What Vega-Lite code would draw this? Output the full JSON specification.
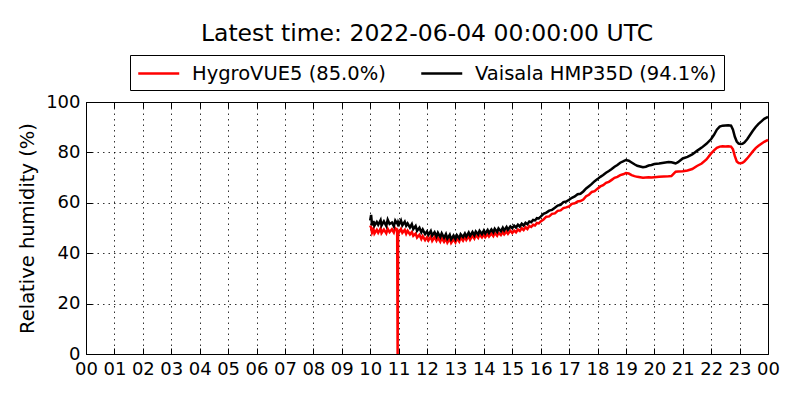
{
  "$schema": "https://vega.github.io/schema/vega-lite/v6.json",
  "description": "relative humidity, two sensors",
  "width": 682,
  "height": 252,
  "autosize": {"type": "none"},
  "padding": {"left": 86, "top": 102, "right": 32, "bottom": 46},
  "title": {
    "text": "Latest time: 2022-06-04 00:00:00 UTC",
    "fontSize": 23.5,
    "font": "DejaVu Sans",
    "fontWeight": "normal",
    "color": "black",
    "anchor": "middle",
    "offset": 9
  },
  "data": {
    "values": [
      {"m": 600, "h": 51.0, "v": 53.0},
      {"m": 602, "h": 50.2, "v": 55.2},
      {"m": 604, "h": 48.2, "v": 51.0},
      {"m": 607, "h": 49.6, "v": 52.8},
      {"m": 609, "h": 47.8, "v": 50.9},
      {"m": 614, "h": 49.3, "v": 52.4},
      {"m": 617, "h": 48.1, "v": 51.3},
      {"m": 622, "h": 49.8, "v": 53.1},
      {"m": 624, "h": 48.0, "v": 51.0},
      {"m": 629, "h": 49.4, "v": 52.6},
      {"m": 634, "h": 47.9, "v": 50.8},
      {"m": 637, "h": 49.7, "v": 53.3},
      {"m": 641, "h": 48.4, "v": 51.6},
      {"m": 646, "h": 49.5, "v": 52.2},
      {"m": 650, "h": 48.2, "v": 50.7},
      {"m": 653, "h": 49.9, "v": 52.9},
      {"m": 656, "h": 49.3, "v": 52.0},
      {"m": 657, "h": 49.3, "v": 52.0},
      {"m": 658, "h": 0.0, "v": 51.6},
      {"m": 659, "h": 48.8, "v": 52.3},
      {"m": 661, "h": 48.3, "v": 51.4},
      {"m": 665, "h": 49.6, "v": 53.0},
      {"m": 668, "h": 48.1, "v": 51.1},
      {"m": 673, "h": 49.2, "v": 52.5},
      {"m": 676, "h": 47.7, "v": 50.9},
      {"m": 679, "h": 48.9, "v": 51.8},
      {"m": 684, "h": 47.5, "v": 50.2},
      {"m": 688, "h": 48.4, "v": 51.5},
      {"m": 691, "h": 46.9, "v": 49.6},
      {"m": 696, "h": 47.8, "v": 50.8},
      {"m": 699, "h": 46.2, "v": 48.9},
      {"m": 704, "h": 47.3, "v": 50.1},
      {"m": 708, "h": 45.6, "v": 48.3},
      {"m": 711, "h": 46.8, "v": 49.4},
      {"m": 716, "h": 45.2, "v": 47.6},
      {"m": 720, "h": 46.3, "v": 48.6},
      {"m": 723, "h": 45.1, "v": 47.3},
      {"m": 728, "h": 46.6, "v": 48.8},
      {"m": 731, "h": 44.9, "v": 47.0},
      {"m": 736, "h": 46.4, "v": 48.3},
      {"m": 740, "h": 45.0, "v": 46.6},
      {"m": 743, "h": 46.2, "v": 48.1},
      {"m": 748, "h": 44.6, "v": 46.4},
      {"m": 751, "h": 46.0, "v": 47.9},
      {"m": 756, "h": 44.5, "v": 46.1},
      {"m": 760, "h": 45.7, "v": 47.6},
      {"m": 763, "h": 44.2, "v": 45.8},
      {"m": 768, "h": 45.8, "v": 47.3},
      {"m": 771, "h": 44.1, "v": 45.5},
      {"m": 776, "h": 45.5, "v": 47.0},
      {"m": 780, "h": 44.3, "v": 45.6},
      {"m": 783, "h": 45.9, "v": 47.2},
      {"m": 788, "h": 44.6, "v": 45.9},
      {"m": 791, "h": 46.2, "v": 47.5},
      {"m": 796, "h": 45.0, "v": 46.4},
      {"m": 800, "h": 46.5, "v": 47.8},
      {"m": 803, "h": 45.3, "v": 46.6},
      {"m": 808, "h": 46.8, "v": 48.2},
      {"m": 811, "h": 45.4, "v": 46.9},
      {"m": 816, "h": 47.0, "v": 48.4},
      {"m": 820, "h": 45.8, "v": 47.1},
      {"m": 823, "h": 47.2, "v": 48.6},
      {"m": 828, "h": 46.1, "v": 47.4},
      {"m": 831, "h": 47.4, "v": 48.9},
      {"m": 836, "h": 46.3, "v": 47.6},
      {"m": 840, "h": 47.5, "v": 49.0},
      {"m": 843, "h": 46.4, "v": 47.8},
      {"m": 848, "h": 47.6, "v": 49.2},
      {"m": 851, "h": 46.6, "v": 48.0},
      {"m": 856, "h": 47.8, "v": 49.4},
      {"m": 860, "h": 46.8, "v": 48.3},
      {"m": 863, "h": 48.0, "v": 49.7},
      {"m": 868, "h": 46.9, "v": 48.4},
      {"m": 871, "h": 48.1, "v": 49.8},
      {"m": 876, "h": 47.2, "v": 48.7},
      {"m": 880, "h": 48.4, "v": 50.1},
      {"m": 883, "h": 47.5, "v": 49.0},
      {"m": 888, "h": 48.6, "v": 50.4},
      {"m": 891, "h": 47.7, "v": 49.3},
      {"m": 896, "h": 48.9, "v": 50.6},
      {"m": 900, "h": 48.0, "v": 49.9},
      {"m": 904, "h": 49.0, "v": 50.9},
      {"m": 908, "h": 48.3, "v": 50.2},
      {"m": 912, "h": 49.4, "v": 51.3},
      {"m": 916, "h": 48.8, "v": 50.6},
      {"m": 920, "h": 49.9, "v": 51.7},
      {"m": 924, "h": 49.2, "v": 51.0},
      {"m": 928, "h": 50.3, "v": 52.1},
      {"m": 932, "h": 49.6, "v": 51.5},
      {"m": 936, "h": 50.8, "v": 52.6},
      {"m": 940, "h": 50.4, "v": 52.3},
      {"m": 944, "h": 51.3, "v": 53.2},
      {"m": 948, "h": 51.0, "v": 53.0},
      {"m": 952, "h": 52.0, "v": 53.9},
      {"m": 956, "h": 51.8, "v": 53.8},
      {"m": 960, "h": 52.6, "v": 54.5},
      {"m": 966, "h": 53.4, "v": 55.6},
      {"m": 972, "h": 54.5, "v": 56.1},
      {"m": 978, "h": 54.6, "v": 56.9},
      {"m": 984, "h": 55.6, "v": 57.2},
      {"m": 990, "h": 55.8, "v": 58.0},
      {"m": 996, "h": 56.8, "v": 58.9},
      {"m": 1002, "h": 57.0, "v": 59.2},
      {"m": 1008, "h": 57.9, "v": 60.3},
      {"m": 1014, "h": 58.2, "v": 60.5},
      {"m": 1020, "h": 58.6, "v": 61.2},
      {"m": 1026, "h": 59.6, "v": 62.0},
      {"m": 1032, "h": 59.8, "v": 62.5},
      {"m": 1038, "h": 60.5, "v": 63.4},
      {"m": 1044, "h": 60.7, "v": 63.6},
      {"m": 1050, "h": 61.3, "v": 64.5},
      {"m": 1056, "h": 62.6, "v": 65.7},
      {"m": 1062, "h": 63.2, "v": 66.6},
      {"m": 1068, "h": 64.3, "v": 67.5},
      {"m": 1074, "h": 64.6, "v": 68.6},
      {"m": 1080, "h": 65.6, "v": 69.4},
      {"m": 1086, "h": 66.5, "v": 70.3},
      {"m": 1092, "h": 67.0, "v": 71.0},
      {"m": 1098, "h": 67.9, "v": 71.9},
      {"m": 1104, "h": 68.3, "v": 72.6},
      {"m": 1110, "h": 69.1, "v": 73.4},
      {"m": 1116, "h": 69.9, "v": 74.3},
      {"m": 1122, "h": 70.3, "v": 75.0},
      {"m": 1128, "h": 71.0, "v": 75.9},
      {"m": 1134, "h": 71.3, "v": 76.4},
      {"m": 1140, "h": 71.8, "v": 77.0},
      {"m": 1146, "h": 71.6, "v": 76.7},
      {"m": 1152, "h": 71.0, "v": 76.0},
      {"m": 1158, "h": 70.6, "v": 75.3},
      {"m": 1164, "h": 70.3, "v": 74.7},
      {"m": 1170, "h": 70.1, "v": 74.4},
      {"m": 1176, "h": 69.9, "v": 74.1},
      {"m": 1182, "h": 70.0, "v": 74.3},
      {"m": 1188, "h": 70.1, "v": 74.8},
      {"m": 1194, "h": 70.0, "v": 75.0},
      {"m": 1200, "h": 70.1, "v": 75.4},
      {"m": 1210, "h": 70.3, "v": 75.6},
      {"m": 1220, "h": 70.4, "v": 75.9},
      {"m": 1230, "h": 70.5, "v": 76.2},
      {"m": 1236, "h": 70.6, "v": 76.1},
      {"m": 1242, "h": 71.8, "v": 75.8},
      {"m": 1245, "h": 72.3, "v": 75.6},
      {"m": 1250, "h": 72.4, "v": 76.1},
      {"m": 1260, "h": 72.5, "v": 77.6},
      {"m": 1270, "h": 72.8, "v": 78.2},
      {"m": 1280, "h": 73.4, "v": 79.2},
      {"m": 1290, "h": 74.6, "v": 80.6},
      {"m": 1300, "h": 75.6, "v": 81.9},
      {"m": 1310, "h": 77.2, "v": 83.4},
      {"m": 1320, "h": 79.6, "v": 85.3},
      {"m": 1326, "h": 80.8, "v": 87.0},
      {"m": 1332, "h": 81.8, "v": 89.0},
      {"m": 1338, "h": 82.3, "v": 90.2},
      {"m": 1344, "h": 82.4, "v": 90.6},
      {"m": 1350, "h": 82.3, "v": 90.7},
      {"m": 1356, "h": 82.4, "v": 90.8},
      {"m": 1362, "h": 82.3, "v": 90.6},
      {"m": 1366, "h": 81.2, "v": 89.0},
      {"m": 1370, "h": 78.5, "v": 86.2},
      {"m": 1374, "h": 76.4, "v": 84.3},
      {"m": 1378, "h": 75.8, "v": 83.5},
      {"m": 1382, "h": 75.7, "v": 83.3},
      {"m": 1386, "h": 75.9, "v": 83.4},
      {"m": 1390, "h": 76.4, "v": 83.9},
      {"m": 1396, "h": 77.6, "v": 85.2},
      {"m": 1402, "h": 79.0, "v": 86.9},
      {"m": 1408, "h": 80.4, "v": 88.6},
      {"m": 1414, "h": 81.7, "v": 90.1},
      {"m": 1420, "h": 82.6, "v": 91.3},
      {"m": 1426, "h": 83.4, "v": 92.3},
      {"m": 1432, "h": 84.2, "v": 93.3},
      {"m": 1440, "h": 85.0, "v": 94.1}
    ]
  },
  "transform": [{"fold": ["h", "v"], "as": ["series", "rh"]}],
  "layer": [
    {
      "mark": {"type": "line", "strokeWidth": 2.5},
      "encoding": {
        "x": {
          "field": "m",
          "type": "quantitative",
          "scale": {"domain": [0, 1440], "nice": false, "zero": false},
          "axis": {
            "orient": "bottom",
            "title": null,
            "values": [0, 60, 120, 180, 240, 300, 360, 420, 480, 540, 600, 660, 720, 780, 840, 900, 960, 1020, 1080, 1140, 1200, 1260, 1320, 1380, 1440],
            "labelExpr": "datum.value == 1440 ? '00' : (datum.value < 600 ? '0' + datum.value / 60 : '' + datum.value / 60)",
            "tickSize": -6,
            "labelPadding": 12,
            "grid": true,
            "labelFlush": false,
            "labelOverlap": false
          }
        },
        "y": {
          "field": "rh",
          "type": "quantitative",
          "scale": {"domain": [0, 100], "nice": false},
          "axis": {
            "orient": "left",
            "title": "Relative humidity (%)",
            "values": [0, 20, 40, 60, 80, 100],
            "tickSize": -6,
            "labelPadding": 12,
            "grid": true,
            "titlePadding": 8,
            "titleFontSize": 19.5
          }
        },
        "color": {
          "field": "series",
          "type": "nominal",
          "scale": {"domain": ["h", "v"], "range": ["#ff0000", "#000000"]},
          "legend": {
            "orient": "none",
            "legendX": 44,
            "legendY": -47,
            "direction": "horizontal",
            "columns": 2,
            "title": null,
            "symbolType": "M-1,0H3",
            "symbolStrokeWidth": 2.5,
            "symbolSize": 420,
            "labelFontSize": 19.5,
            "labelFont": "DejaVu Sans",
            "labelColor": "black",
            "labelLimit": 400,
            "labelOffset": 32,
            "columnPadding": 30,
            "strokeColor": "black",
            "fillColor": "white",
            "padding": 7,
            "labelExpr": "datum.value == 'h' ? 'HygroVUE5 (85.0%)' : 'Vaisala HMP35D (94.1%)'"
          }
        }
      }
    },
    {
      "mark": {"type": "point", "opacity": 0},
      "encoding": {
        "x": {
          "field": "m",
          "type": "quantitative",
          "axis": {
            "orient": "top",
            "title": null,
            "labels": false,
            "grid": false,
            "values": [0, 60, 120, 180, 240, 300, 360, 420, 480, 540, 600, 660, 720, 780, 840, 900, 960, 1020, 1080, 1140, 1200, 1260, 1320, 1380, 1440],
            "tickSize": -6
          }
        },
        "y": {
          "field": "rh",
          "type": "quantitative",
          "axis": {
            "orient": "right",
            "title": null,
            "labels": false,
            "grid": false,
            "values": [0, 20, 40, 60, 80, 100],
            "tickSize": -6
          }
        }
      }
    }
  ],
  "resolve": {"axis": {"x": "independent", "y": "independent"}},
  "config": {
    "font": "DejaVu Sans",
    "view": {"stroke": "black", "strokeWidth": 1},
    "axis": {
      "domain": false,
      "labelFont": "DejaVu Sans",
      "labelFontSize": 18,
      "labelColor": "black",
      "tickColor": "black",
      "tickWidth": 1,
      "gridColor": "black",
      "gridDash": [1.5, 4],
      "gridOpacity": 0.8,
      "gridWidth": 1,
      "titleFont": "DejaVu Sans",
      "titleFontSize": 18,
      "titleFontWeight": "normal",
      "titleColor": "black"
    }
  }
}
